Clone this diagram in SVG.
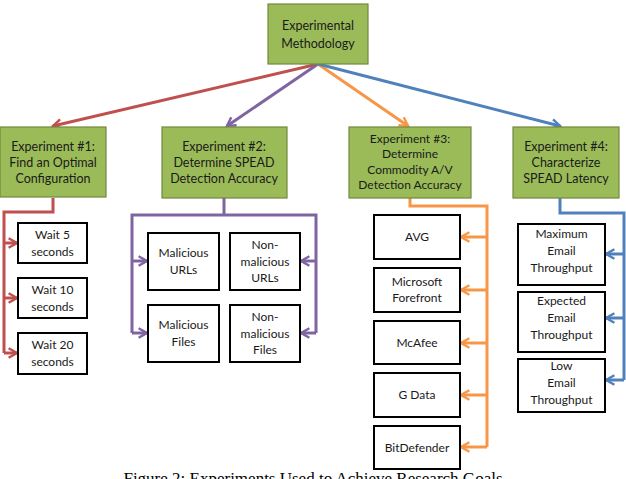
<svg xmlns="http://www.w3.org/2000/svg" width="626" height="479" viewBox="0 0 626 479">
<style>
.g{fill:#9bbb59;stroke:#71893f;stroke-width:1.2}
.w{fill:#fff;stroke:#000;stroke-width:2}
.t{font-family:Lato,"Liberation Sans",sans-serif;font-size:12.5px;fill:#1a1a1a;text-anchor:middle}
.s{font-family:Lato,"Liberation Sans",sans-serif;font-size:12px;fill:#1a1a1a;text-anchor:middle}
.c{fill:none;stroke-width:3;stroke-linejoin:miter}
.r{stroke:#c0504d}.p{stroke:#8064a2}.o{stroke:#f79646}.b{stroke:#4f81bd}
.cap{font-family:"Liberation Serif",serif;font-size:17px;fill:#000;text-anchor:middle}
</style>
<defs>
<marker id="mr" viewBox="0 0 10 10" refX="8" refY="5" markerWidth="4" markerHeight="4" orient="auto" markerUnits="strokeWidth"><path d="M1,1 L8,5 L1,9" fill="none" stroke="#c0504d" stroke-width="2"/></marker>
<marker id="mp" viewBox="0 0 10 10" refX="8" refY="5" markerWidth="4" markerHeight="4" orient="auto" markerUnits="strokeWidth"><path d="M1,1 L8,5 L1,9" fill="none" stroke="#8064a2" stroke-width="2"/></marker>
<marker id="mo" viewBox="0 0 10 10" refX="8" refY="5" markerWidth="4" markerHeight="4" orient="auto" markerUnits="strokeWidth"><path d="M1,1 L8,5 L1,9" fill="none" stroke="#f79646" stroke-width="2"/></marker>
<marker id="mb" viewBox="0 0 10 10" refX="8" refY="5" markerWidth="4" markerHeight="4" orient="auto" markerUnits="strokeWidth"><path d="M1,1 L8,5 L1,9" fill="none" stroke="#4f81bd" stroke-width="2"/></marker>
</defs>
<rect width="626" height="479" fill="#fff"/>
<g id="connectors">
<path class="c r" d="M318,64 L53,126" marker-end="url(#mr)"/>
<path class="c p" d="M318,64 L227,126" marker-end="url(#mp)"/>
<path class="c o" d="M318,64 L408,126" marker-end="url(#mo)"/>
<path class="c b" d="M318,64 L560,126" marker-end="url(#mb)"/>
<path class="c r" d="M53,198 V212 H4 V353"/>
<path class="c r" d="M4,243 H17" marker-end="url(#mr)"/>
<path class="c r" d="M4,298 H17" marker-end="url(#mr)"/>
<path class="c r" d="M4,353 H17" marker-end="url(#mr)"/>
<path class="c p" d="M224,198 V215 M132,333 V215 H316 V333"/>
<path class="c p" d="M132,261 H147" marker-end="url(#mp)"/>
<path class="c p" d="M132,333 H147" marker-end="url(#mp)"/>
<path class="c p" d="M316,261 H301" marker-end="url(#mp)"/>
<path class="c p" d="M316,333 H301" marker-end="url(#mp)"/>
<path class="c o" d="M410,198 V206 H487 V447"/>
<path class="c o" d="M487,237 H461" marker-end="url(#mo)"/>
<path class="c o" d="M487,290 H461" marker-end="url(#mo)"/>
<path class="c o" d="M487,343 H461" marker-end="url(#mo)"/>
<path class="c o" d="M487,395 H461" marker-end="url(#mo)"/>
<path class="c o" d="M487,447 H461" marker-end="url(#mo)"/>
<path class="c b" d="M560,198 V213 H624 V380"/>
<path class="c b" d="M624,254 H606" marker-end="url(#mb)"/>
<path class="c b" d="M624,318 H606" marker-end="url(#mb)"/>
<path class="c b" d="M624,380 H606" marker-end="url(#mb)"/>
</g>
<g id="top"><rect class="g" x="268" y="4" width="100" height="60"/><text class="t" x="318" y="30">Experimental</text><text class="t" x="318" y="48">Methodology</text></g>
<g id="exp1"><rect class="g" x="0" y="127" width="106" height="70"/><text class="t" x="53" y="151">Experiment #1:</text><text class="t" x="53" y="167">Find an Optimal</text><text class="t" x="53" y="183">Configuration</text></g>
<g id="exp2"><rect class="g" x="162" y="127" width="125" height="71"/><text class="t" x="224" y="151">Experiment #2:</text><text class="t" x="224" y="167">Determine SPEAD</text><text class="t" x="224" y="183">Detection Accuracy</text></g>
<g id="exp3"><rect class="g" x="349" y="127" width="122" height="71"/><text class="s" x="410" y="143">Experiment #3:</text><text class="s" x="410" y="158">Determine</text><text class="s" x="410" y="174">Commodity A/V</text><text class="s" x="410" y="189">Detection Accuracy</text></g>
<g id="exp4"><rect class="g" x="513" y="127" width="106" height="71"/><text class="t" x="566" y="151">Experiment #4:</text><text class="t" x="566" y="167">Characterize</text><text class="t" x="566" y="183">SPEAD Latency</text></g>
<g id="wait5"><rect class="w" x="18" y="223" width="69" height="40"/><text class="s" x="52.5" y="239">Wait 5</text><text class="s" x="52.5" y="256">seconds</text></g>
<g id="wait10"><rect class="w" x="18" y="278" width="69" height="40"/><text class="s" x="52.5" y="294">Wait 10</text><text class="s" x="52.5" y="311">seconds</text></g>
<g id="wait20"><rect class="w" x="18" y="333" width="69" height="41"/><text class="s" x="52.5" y="349">Wait 20</text><text class="s" x="52.5" y="366">seconds</text></g>
<g id="malurls"><rect class="w" x="148" y="233" width="71" height="57"/><text class="s" x="183.5" y="257">Malicious</text><text class="s" x="183.5" y="274">URLs</text></g>
<g id="nonmalurls"><rect class="w" x="230" y="233" width="70" height="57"/><text class="s" x="265" y="249">Non-</text><text class="s" x="265" y="266">malicious</text><text class="s" x="265" y="282">URLs</text></g>
<g id="malfiles"><rect class="w" x="148" y="305" width="71" height="57"/><text class="s" x="183.5" y="329">Malicious</text><text class="s" x="183.5" y="346">Files</text></g>
<g id="nonmalfiles"><rect class="w" x="230" y="305" width="70" height="57"/><text class="s" x="265" y="321">Non-</text><text class="s" x="265" y="338">malicious</text><text class="s" x="265" y="354">Files</text></g>
<g id="avg"><rect class="w" x="374" y="215" width="86" height="44"/><text class="s" x="417" y="241">AVG</text></g>
<g id="msff"><rect class="w" x="374" y="268" width="86" height="44"/><text class="s" x="417" y="286">Microsoft</text><text class="s" x="417" y="302">Forefront</text></g>
<g id="mcafee"><rect class="w" x="374" y="321" width="86" height="43"/><text class="s" x="417" y="347">McAfee</text></g>
<g id="gdata"><rect class="w" x="374" y="373" width="86" height="44"/><text class="s" x="417" y="399">G Data</text></g>
<g id="bitdef"><rect class="w" x="374" y="426" width="86" height="43"/><text class="s" x="417" y="452">BitDefender</text></g>
<g id="maxtp"><rect class="w" x="518" y="224" width="87" height="61"/><text class="s" x="561.5" y="238">Maximum</text><text class="s" x="561.5" y="255">Email</text><text class="s" x="561.5" y="272">Throughput</text></g>
<g id="exptp"><rect class="w" x="518" y="292" width="87" height="60"/><text class="s" x="561.5" y="305">Expected</text><text class="s" x="561.5" y="322">Email</text><text class="s" x="561.5" y="339">Throughput</text></g>
<g id="lowtp"><rect class="w" x="518" y="359" width="87" height="53"/><text class="s" x="561.5" y="370">Low</text><text class="s" x="561.5" y="387">Email</text><text class="s" x="561.5" y="404">Throughput</text></g>
<text class="cap" x="313" y="484">Figure 2: Experiments Used to Achieve Research Goals</text>
</svg>
